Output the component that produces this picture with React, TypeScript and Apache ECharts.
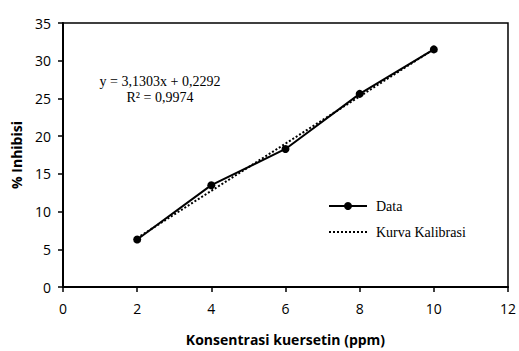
import React, { useEffect, useRef } from "react";
import * as echarts from "echarts";

const concentrations = [2, 4, 6, 8, 10];
const inhibition = [6.3, 13.5, 18.3, 25.6, 31.5];
const trendX = [2, 10];
const trendY = [6.49, 31.53];
const equationLines = ["y = 3,1303x + 0,2292", "R² = 0,9974"];

export default function App() {
  const ref = useRef<HTMLDivElement>(null);
  useEffect(() => {
    if (!ref.current) return;
    const chart = echarts.init(ref.current, null, { renderer: "svg" });
    const sans = "'Open Sans', 'Liberation Sans', sans-serif";
    const serif = "'Liberation Serif', 'DejaVu Serif', serif";
    chart.setOption({
      animation: false,
      grid: {
        left: 63,
        right: 8,
        top: 23,
        bottom: 62,
        show: true,
        borderColor: "#000",
        borderWidth: 1.5,
        backgroundColor: "#fff",
      },
      xAxis: {
        type: "value",
        min: 0,
        max: 12,
        interval: 2,
        name: "Konsentrasi kuersetin (ppm)",
        nameLocation: "middle",
        nameGap: 45,
        nameTextStyle: { fontFamily: sans, fontWeight: "bold", fontSize: 14, color: "#000" },
        axisLine: { lineStyle: { color: "#000", width: 2 } },
        axisTick: { show: true, length: 5, lineStyle: { color: "#000", width: 1.5 } },
        axisLabel: { fontFamily: sans, fontSize: 14, color: "#000", margin: 14 },
        splitLine: { show: false },
      },
      yAxis: {
        type: "value",
        min: 0,
        max: 35,
        interval: 5,
        name: "% Inhibisi",
        nameLocation: "middle",
        nameGap: 40,
        nameTextStyle: { fontFamily: sans, fontWeight: "bold", fontSize: 14, color: "#000" },
        axisLine: { show: true, lineStyle: { color: "#000", width: 2 } },
        axisTick: { show: true, length: 5, lineStyle: { color: "#000", width: 1.5 } },
        axisLabel: { fontFamily: sans, fontSize: 14, color: "#000", margin: 12 },
        splitLine: { show: false },
      },
      legend: {
        orient: "vertical",
        left: 323,
        top: 194,
        itemWidth: 38,
        itemHeight: 10,
        itemGap: 12,
        textStyle: { fontFamily: serif, fontSize: 14, color: "#000", padding: [0, 0, 0, 4] },
        data: [
          { name: "Data" },
          { name: "Kurva Kalibrasi", itemStyle: { opacity: 0 } },
        ],
      },
      graphic: [
        {
          type: "text",
          x: 160,
          y: 73,
          style: {
            text: equationLines.join("\n"),
            font: `14px ${serif}`,
            fill: "#000",
            align: "center",
            verticalAlign: "top",
            lineHeight: 16,
          },
        },
      ],
      series: [
        {
          name: "Kurva Kalibrasi",
          type: "line",
          data: trendX.map((x, i) => [x, trendY[i]]),
          showSymbol: false,
          symbol: "none",
          lineStyle: { color: "#000", width: 2, type: "dotted" },
          itemStyle: { color: "#000" },
          z: 2,
        },
        {
          name: "Data",
          type: "line",
          data: concentrations.map((x, i) => [x, inhibition[i]]),
          symbol: "circle",
          symbolSize: 8,
          lineStyle: { color: "#000", width: 2 },
          itemStyle: { color: "#000" },
          z: 3,
        },
      ],
    });
    return () => chart.dispose();
  }, []);
  return <div ref={ref} style={{ width: 519, height: 351, position: "absolute", left: 0, top: 0 }} />;
}
